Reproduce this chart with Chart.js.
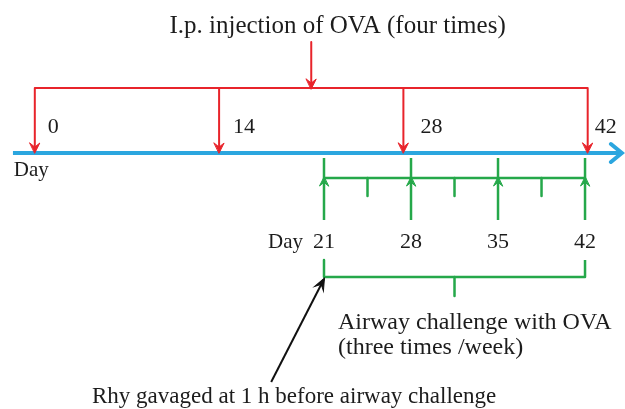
<!DOCTYPE html>
<html>
<head>
<meta charset="utf-8">
<script src="https://cdn.jsdelivr.net/npm/chart.js@4.4.0/dist/chart.umd.min.js"></script>
<style>
  html, body { margin: 0; padding: 0; background: #fff; }
  #wrap { width: 625px; height: 409px; position: relative; }
</style>
</head>
<body>
<div id="wrap"><canvas id="timeline"></canvas></div>
<script>
// schedule data
const injectionDays = [0, 14, 28, 42];
const injectionLabels = ['0', '14', '28', '42'];
const challengeDays = [21, 28, 35, 42];
const challengeLabels = ['21', '28', '35', '42'];
const titleText = 'I.p. injection of OVA (four times)';
const challengeText = ['Airway challenge with OVA', '(three times /week)'];
const gavageText = 'Rhy gavaged at 1 h before airway challenge';
const dayText = 'Day';

// layout rows (y axis runs top -> bottom)
const ROW = {
  title: 26, topArrow: 42, redBar: 88, axis: 153, injLabel: 127, dayTop: 170,
  greenTop: 158, greenBar: 178, greenTick: 196, greenBottom: 220, chLabel: 242,
  braceTop: 260, brace: 277, braceTick: 296, note1: 323, note2: 348,
  arrowBase: 382, arrowTip: 279, gavage: 397
};
const RED = '#e8242b', BLUE = '#2ba6df', GREEN = '#25a84a', INK = '#1c1c1c';
const FONT = '"Liberation Serif", "Times New Roman", serif';

function seg(points, axis, color, width, arrowAt, arrowSize) {
  return {
    data: points.map(p => ({ x: p[0], y: p[1] })),
    xAxisID: axis,
    borderColor: color,
    borderWidth: width,
    borderJoinStyle: 'round',
    arrowAt: arrowAt || [],
    arrowSize: arrowSize || [9, 5],
    clip: false
  };
}

const datasets = [];
// blue time axis
datasets.push(seg([[-1.66, ROW.axis], [44.6, ROW.axis]], 'x', BLUE, 4, [1], [11, 9]));
// red injection bracket
datasets.push(seg([[0, ROW.redBar], [42, ROW.redBar]], 'x', RED, 2));
datasets.push(seg([[21, ROW.topArrow], [21, ROW.redBar]], 'x', RED, 2, [1]));
injectionDays.forEach(d => {
  datasets.push(seg([[d, ROW.redBar], [d, ROW.axis - 1]], 'x', RED, 2, [1]));
});
// green challenge arrows
challengeDays.forEach(d => {
  datasets.push(seg([[d, ROW.greenBottom], [d, ROW.greenBar], [d, ROW.greenTop]], 'xc', GREEN, 2.5, [1], [8, 4.5]));
});
datasets.push(seg([[challengeDays[0], ROW.greenBar], [challengeDays[challengeDays.length - 1], ROW.greenBar]], 'xc', GREEN, 2.5));
for (let i = 1; i < challengeDays.length; i++) {
  const m = (challengeDays[i - 1] + challengeDays[i]) / 2;
  datasets.push(seg([[m, ROW.greenBar], [m, ROW.greenTick]], 'xc', GREEN, 2.5));
}
// lower brace spanning the challenge period
const first = challengeDays[0], last = challengeDays[challengeDays.length - 1];
datasets.push(seg([[first, ROW.braceTop], [first, ROW.brace], [last, ROW.brace], [last, ROW.braceTop]], 'xc', GREEN, 2.5));
datasets.push(seg([[(first + last) / 2, ROW.brace], [(first + last) / 2, ROW.braceTick]], 'xc', GREEN, 2.5));
// black gavage arrow
datasets.push(seg([[first - 4.25, ROW.arrowBase], [first, ROW.arrowTip]], 'xc', '#111', 2, [1], [11, 5]));

const arrowPlugin = {
  id: 'arrows',
  afterDatasetsDraw(chart) {
    const ctx = chart.ctx;
    chart.data.datasets.forEach((ds, i) => {
      const pts = chart.getDatasetMeta(i).data;
      ds.arrowAt.forEach(k => {
        const p = pts[k], q = pts[k - 1];
        const a = Math.atan2(p.y - q.y, p.x - q.x);
        const [len, w] = ds.arrowSize;
        ctx.save();
        ctx.translate(p.x, p.y);
        ctx.rotate(a);
        ctx.strokeStyle = ds.borderColor;
        ctx.fillStyle = ds.borderColor;
        ctx.lineCap = 'round';
        if (ds.borderWidth >= 4) {
          // open chevron for the thick time axis
          ctx.beginPath();
          ctx.moveTo(-len, -w);
          ctx.lineTo(0, 0);
          ctx.lineTo(-len, w);
          ctx.lineWidth = ds.borderWidth;
          ctx.stroke();
        } else {
          // small stealth head
          ctx.beginPath();
          ctx.moveTo(1, 0);
          ctx.lineTo(-len, -w);
          ctx.lineTo(-len * 0.55, 0);
          ctx.lineTo(-len, w);
          ctx.closePath();
          ctx.fill();
          ctx.lineWidth = 1;
          ctx.stroke();
        }
        ctx.restore();
      });
    });
  }
};

const textPlugin = {
  id: 'texts',
  afterDraw(chart) {
    const ctx = chart.ctx;
    const x = chart.scales.x, xc = chart.scales.xc, y = chart.scales.y;
    function put(str, px, py, size, align) {
      ctx.font = size + 'px ' + FONT;
      ctx.fillStyle = INK;
      ctx.textAlign = align || 'left';
      ctx.textBaseline = 'middle';
      ctx.fillText(str, px, y.getPixelForValue(py));
    }
    ctx.save();
    put(titleText, x.getPixelForValue(23), ROW.title, 25, 'center');
    const dx = [13, 14, 17, 7];
    injectionDays.forEach((d, i) => put(injectionLabels[i], x.getPixelForValue(d) + dx[i], ROW.injLabel, 22));
    put(dayText, x.getPixelForValue(-1.6), ROW.dayTop, 21);
    challengeDays.forEach((d, i) => put(challengeLabels[i], xc.getPixelForValue(d), ROW.chLabel, 22, 'center'));
    put(dayText, xc.getPixelForValue(first) - 21, ROW.chLabel, 21, 'right');
    put(challengeText[0], xc.getPixelForValue(first) + 14, ROW.note1, 24);
    put(challengeText[1], xc.getPixelForValue(first) + 14, ROW.note2, 24);
    put(gavageText, xc.getPixelForValue(first) - 232, ROW.gavage, 23);
    ctx.restore();
  }
};

new Chart(document.getElementById('timeline'), {
  type: 'line',
  data: { datasets: datasets },
  options: {
    animation: false,
    responsive: true,
    maintainAspectRatio: false,
    layout: { padding: 0 },
    elements: { point: { radius: 0 }, line: { tension: 0 } },
    plugins: { legend: { display: false }, tooltip: { enabled: false } },
    scales: {
      x: { type: 'linear', display: false, min: -2.644, max: 44.834 },
      xc: { type: 'linear', axis: 'x', display: false, min: -5.066, max: 45.216 },
      y: { type: 'linear', display: false, min: 0, max: 409, reverse: true }
    }
  },
  plugins: [arrowPlugin, textPlugin]
});
</script>
</body>
</html>
